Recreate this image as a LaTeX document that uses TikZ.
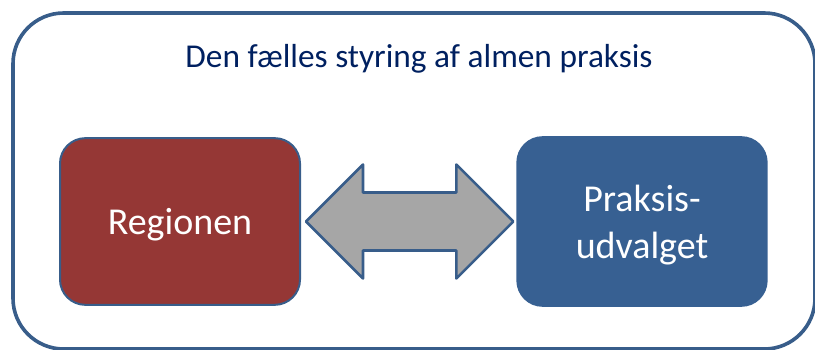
\documentclass[tikz,border=0pt]{standalone}
\usepackage{fontspec}
\setmainfont{Carlito}
\usetikzlibrary{positioning, calc}
\definecolor{cframe}{HTML}{385D8A}
\definecolor{cred}{HTML}{953735}
\definecolor{cblue}{HTML}{376092}
\definecolor{cgrey}{HTML}{A6A6A6}
\definecolor{cnavy}{HTML}{002060}
\tikzset{
  every picture/.style={line width=1.5pt},
  frame/.style={draw=cframe, line width=2.7pt, rounded corners=38pt},
  box/.style={draw=#1, fill=#1, rounded corners=19pt, align=center, text=white, inner sep=0pt,
    text depth=0pt, font=\fontsize{28.5}{35}\selectfont},
  box/.default=cblue,
  twoway/.style={draw=cframe, fill=cgrey, line width=1.9pt, line join=round},
  title/.style={font=\fontsize{25}{30}\selectfont, text=cnavy},
}

\begin{document}
\begin{tikzpicture}[x=0.75pt, y=-0.75pt]
  \useasboundingbox (0,0) rectangle (815,350);
  \draw[frame] (13,13) rectangle (815,349);
  \node[title, anchor=base] (title) at (419,67) {Den fælles styring af almen praksis};
  \node[box=cred, draw=cframe, minimum width=180pt, minimum height=125pt] (region) at (180,221.5) {Regionen};
  \node[box, minimum width=187pt, minimum height=126.5pt] (udvalg) at (642,221.5) {Praksis-\\udvalget};
  % double arrow between the two parties
  \coordinate (l) at ($(region.east)+(3.75pt,0)$);
  \coordinate (r) at ($(udvalg.west)+(-2.25pt,0)$);
  \draw[twoway] (l) -- ($(l)+(57,-57)$) -- ($(l)+(57,-29)$) -- ($(r)+(-57,-29)$) -- ($(r)+(-57,-57)$)
    -- (r) -- ($(r)+(-57,57)$) -- ($(r)+(-57,29)$) -- ($(l)+(57,29)$) -- ($(l)+(57,57)$) -- cycle;
\end{tikzpicture}
\end{document}
